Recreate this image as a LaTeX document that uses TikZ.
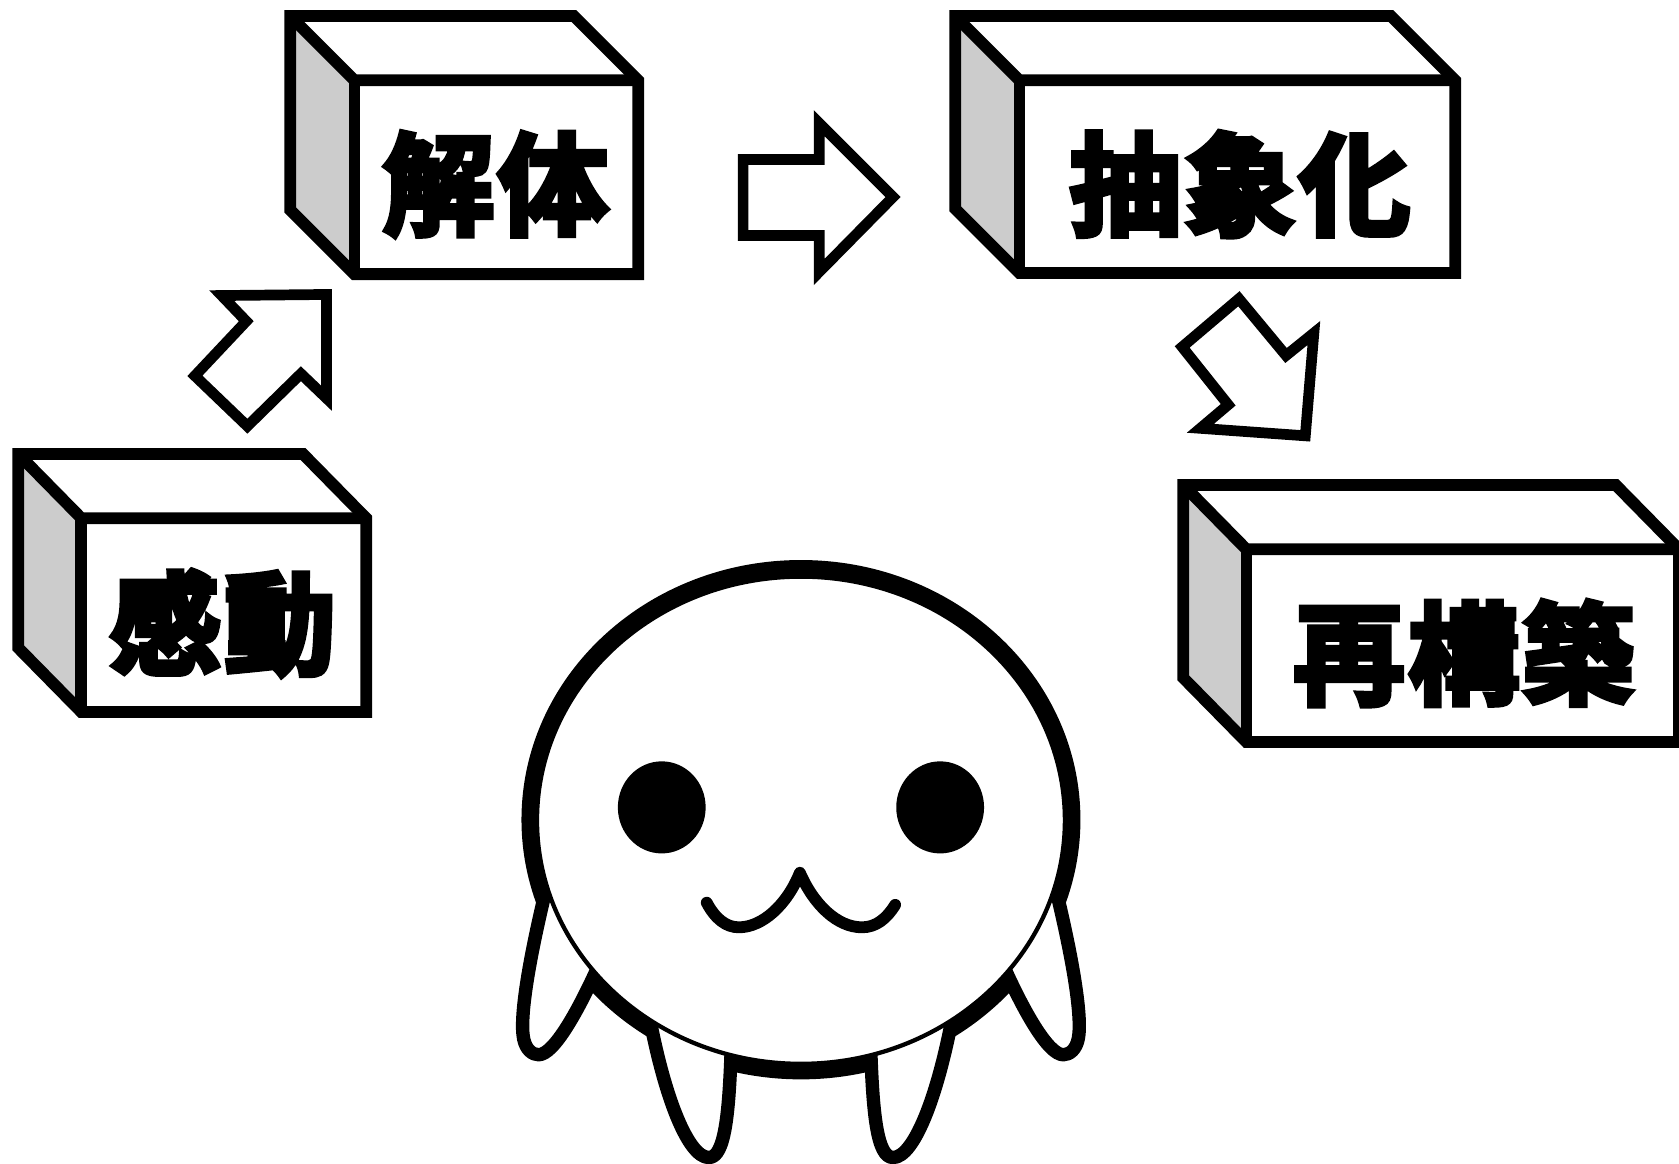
\documentclass[tikz,border=0pt]{standalone}
\usepackage{fontspec}
\newfontfamily\heavyjp[FakeBold=5]{Noto Sans CJK JP Bold}[BoldFont={Noto Sans CJK JP Bold}]
\tikzset{
  crateline/.style={draw=black,line width=11*0.05354cm,miter limit=10},
  sideface/.style={fill=black!20},
  blockarrow/.style={draw=black,fill=white,line width=10*0.05354cm,miter limit=10},
  limb/.style={draw=black,line width=12.5*0.05354cm,line join=round},
  mouthline/.style={draw=black,line width=11*0.05354cm,line cap=round,line join=round},
  boxlabel/.style={font=\heavyjp\fontsize{158}{158}\selectfont,inner sep=0pt,text=black}
}
% A crate: front-top-left corner (fx,fy), width w, front height h, depth d
\newcommand{\crate}[5]{%
  \path[fill=white] (#1-#5,#2-60) -- ++(#3,0) -- (#1+#3,#2) -- ++(0,#4) -- (#1,#2+#4) -- (#1-#5,#2+#4-60) -- cycle;
  \path[sideface] (#1-#5,#2-60) -- (#1,#2) -- (#1,#2+#4) -- (#1-#5,#2+#4-60) -- cycle;
  \draw[crateline] (#1-#5,#2-60) -- ++(#3,0) -- (#1+#3,#2) -- ++(0,#4) -- (#1,#2+#4) -- (#1-#5,#2+#4-60) -- cycle;
  \draw[crateline] (#1-#5,#2-60) -- (#1,#2) -- (#1+#3,#2);
  \draw[crateline] (#1,#2) -- (#1,#2+#4);
}
% A leg: white inside reaching under the head, then its outline
\newcommand{\leg}[1]{%
  \path[fill=white] #1 -- (748,766) -- cycle;
  \draw[limb] #1;
}
\begin{document}
\begin{tikzpicture}[x=0.05354cm,y=-0.05354cm]
\useasboundingbox (0,0) rectangle (1568,1087);
\clip (0,0) rectangle (1568,1087);
\fill[white] (0,0) rectangle (1568,1087);

% Crates with their labels
\crate{76}{484}{266}{181}{59}
\node[boxlabel] (kando) at (208,582) {感\kern5pt 動};
\crate{331}{75}{265}{181}{60}
\node[boxlabel] (kaitai) at (463,172) {解\kern5pt 体};
\crate{952}{75}{407}{180}{60}
\node[boxlabel] (chusho) at (1158,172) {抽\kern5pt 象\kern5pt 化};
\crate{1164}{513}{404}{180}{59}
\node[boxlabel] (saikochiku) at (1367,610) {再\kern5pt 構\kern5pt 築};

% Block arrows between the crates
\draw[blockarrow] (207,276) -- (305,275) -- (305,372) -- (281,349) -- (231,398) -- (182,351) -- (230,300) -- cycle;
\draw[blockarrow] (694,149) -- (765,149) -- (765,115) -- (834,184) -- (765,254) -- (765,220) -- (694,220) -- cycle;
\draw[blockarrow] (1157,279) -- (1201,332) -- (1227,311) -- (1219,407) -- (1121,400) -- (1147,378) -- (1104,324) -- cycle;

% Character: rim of the body, legs, head
\draw[black,line width=16*0.05354cm] (748,765.5) ellipse [x radius=253,y radius=234.5];
\leg{(512,822) .. controls (494,895) and (485,950) .. (489,970) .. controls (491,980) and (497,985) .. (503,985) .. controls (517,985) and (540,945) .. (562,895)}
\leg{(984,822) .. controls (1002,895) and (1011,950) .. (1007,970) .. controls (1005,980) and (999,985) .. (993,985) .. controls (979,985) and (956,945) .. (934,895)}
\leg{(603,930) .. controls (618,1020) and (642,1081) .. (662,1081) .. controls (677,1081) and (681,1040) .. (683,975)}
\leg{(893,930) .. controls (878,1020) and (854,1081) .. (834,1081) .. controls (819,1081) and (815,1040) .. (813,975)}
\draw[black,fill=white,line width=4*0.05354cm] (748,766) ellipse [x radius=246.5,y radius=227.5];

% Face
\fill[black] (618,754) ellipse [x radius=41,y radius=43];
\fill[black] (878,754) ellipse [x radius=41,y radius=43];
\draw[mouthline] (660,843) .. controls (668,858) and (678,866) .. (690,866) .. controls (712,866) and (735,845) .. (747,815) .. controls (760,845) and (782,866) .. (805,866) .. controls (818,866) and (828,858) .. (836,845);
\end{tikzpicture}
\end{document}
